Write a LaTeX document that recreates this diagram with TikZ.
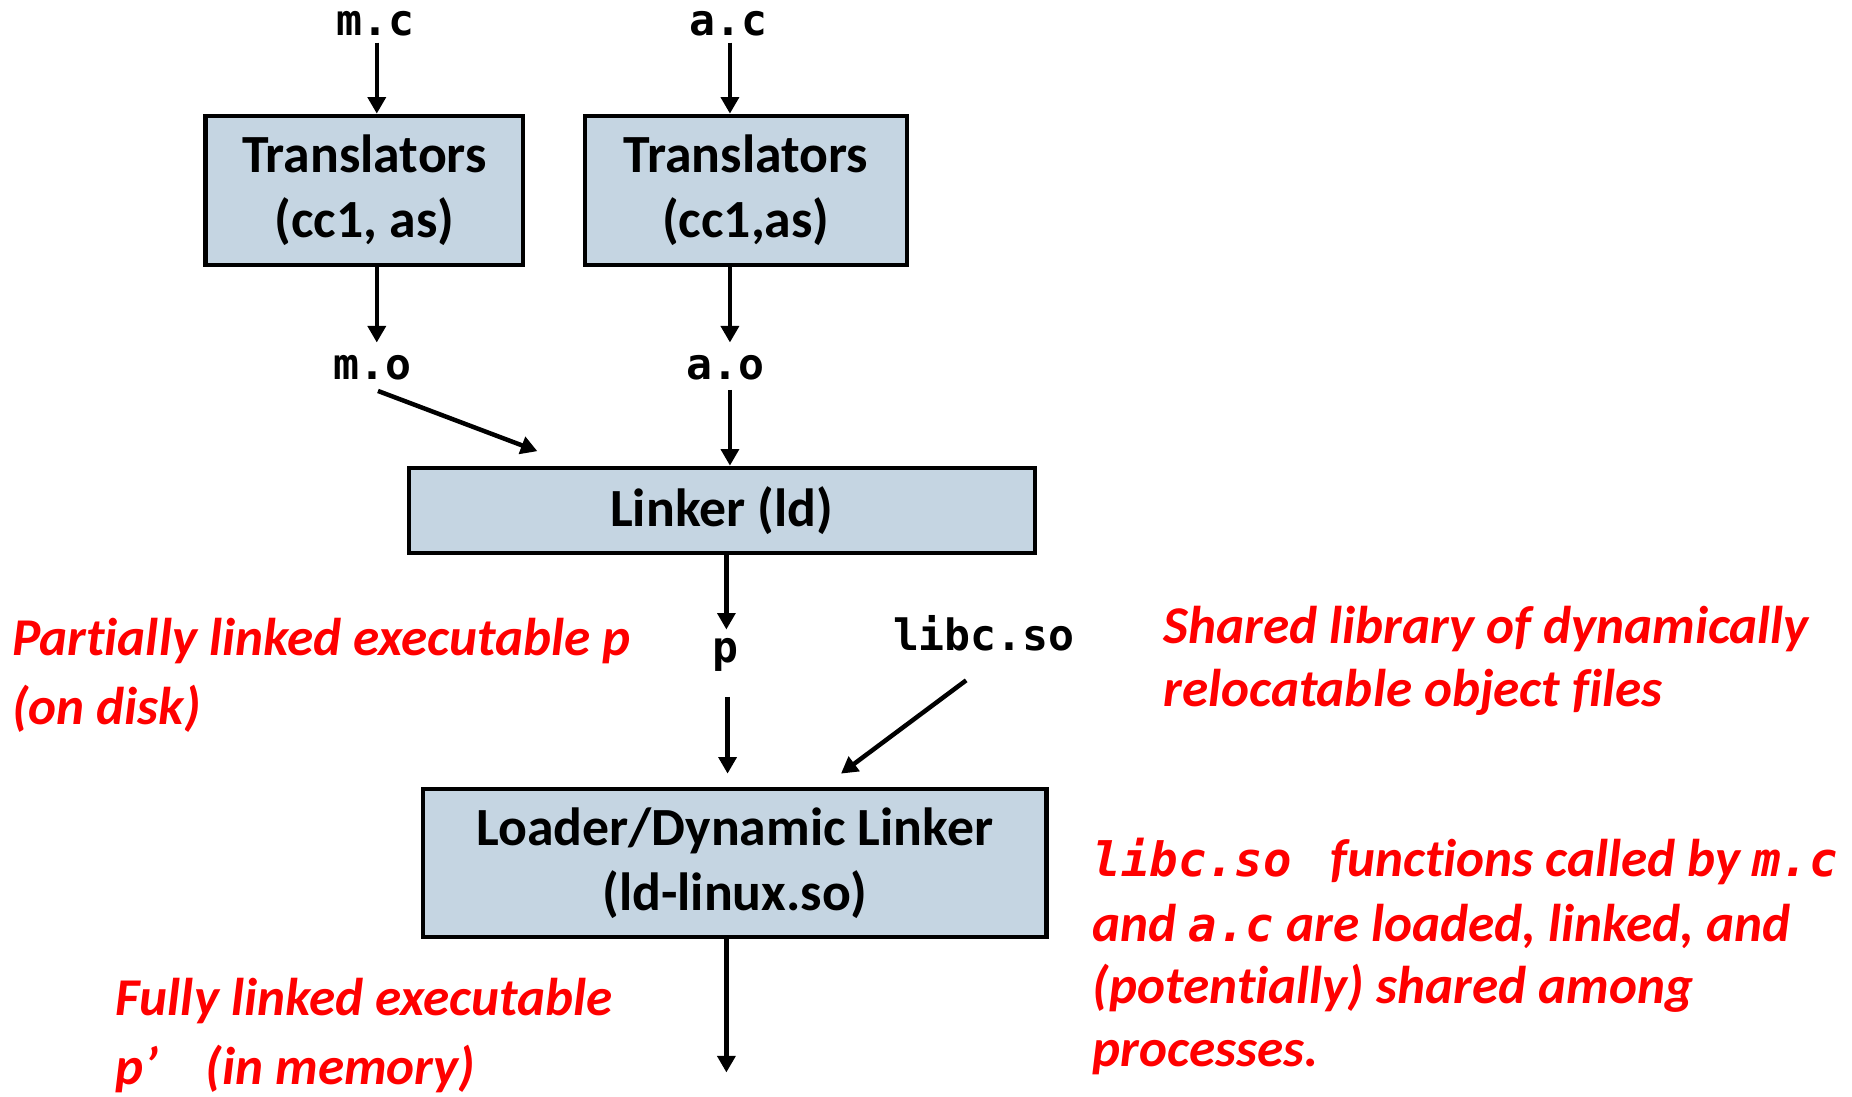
\documentclass[tikz,border=0pt]{standalone}
\usepackage{fontspec}
\setmainfont{Carlito}[Ligatures=NoCommon]
\setmonofont{DejaVu Sans Mono}
\usetikzlibrary{arrows.meta}

\definecolor{boxfill}{RGB}{197,213,226}
\definecolor{note}{RGB}{255,0,0}

\tikzset{
  stagebox/.style={draw=black, line width=3.5pt, fill=boxfill, align=center,
    inner sep=0pt, font=\fontsize{45.5}{55}\selectfont\bfseries},
  filelbl/.style={inner sep=0pt, font=\fontsize{36.5}{40}\selectfont\ttfamily\bfseries},
  notetxt/.style={inner sep=0pt, anchor=base west, text=note,
    font=\fontsize{45}{54}\selectfont\bfseries\itshape},
  flow/.style={line width=3.8pt, -{Triangle[length=14pt,width=15pt]}},
}
\newcommand{\mono}[1]{{\fontsize{40}{54}\selectfont\ttfamily\bfseries\itshape #1}}

\begin{document}
\begin{tikzpicture}[x=1pt,y=-1pt]
\useasboundingbox (0,0) rectangle (1568,928);

% source files
\node[filelbl, anchor=base] (mc) at (318,30) {m.c};
\node[filelbl, anchor=base] (ac) at (617,30) {a.c};

% translator stages
\node[stagebox, minimum width=269pt, minimum height=126pt] (t1) at (308.5,161)
  {Translators\\(cc1, as)};
\node[stagebox, minimum width=273pt, minimum height=126pt] (t2) at (631.5,161)
  {Translators\\(cc1,as)};

% object files
\node[filelbl, anchor=base] (mo) at (315,321) {m.o};
\node[filelbl, anchor=base] (ao) at (614,321) {a.o};

% static linker
\node[stagebox, minimum width=530pt, minimum height=72pt] (lk) at (611,432)
  {Linker (ld)};

% partially linked executable and shared library
\node[filelbl, anchor=base] (p) at (614,561) {p};
\node[filelbl, anchor=base] (libc) at (833,551) {libc.so};

% loader
\node[stagebox, minimum width=528pt, minimum height=125pt] (ld) at (622,730.5)
  {Loader/Dynamic Linker\\(ld-linux.so)};

% free arrow ends
\coordinate (lkin) at (455,382);
\coordinate (ldin) at (712,655);
\coordinate (out) at (615,908);

% connectors (canvas shifts: positive is up)
\draw[flow] ([xshift=1pt,yshift=-6pt]mc.base) -- ([xshift=1pt]mc.base |- t1.north);
\draw[flow] ([xshift=1pt]ac.base |- t2.south) -- ([xshift=1pt,yshift=31pt]ac.base |- mo.base);
\draw[flow] ([xshift=1pt]mc.base |- t1.south) -- ([xshift=1pt,yshift=31pt]mc.base |- mo.base);
\draw[flow] ([xshift=1pt,yshift=-6pt]ac.base) -- ([xshift=1pt]ac.base |- t2.north);
\draw[flow] ([xshift=5pt,yshift=-10pt]mo.base) -- (lkin);
\draw[flow] ([xshift=4pt,yshift=-9pt]ao.base) -- ([xshift=4pt]ao.base |- lk.north);
\draw[flow] ([xshift=1pt]p.base |- lk.south) -- ([xshift=1pt,yshift=28pt]p.base);
\draw[flow] ([xshift=2pt,yshift=-29pt]p.base) -- ([xshift=2pt]p.base |- ldin);
\draw[flow] ([xshift=-15pt,yshift=-25pt]libc.base) -- (ldin);
\draw[flow] (ld.south -| out) -- (out);

% annotations
\node[notetxt] (pa1) at (10,555) {Partially linked executable p};
\node[notetxt] (pa2) at (10,613) {(on disk)};
\node[notetxt] (sh1) at (985,545) {Shared library of dynamically};
\node[notetxt] (sh2) at (985,598) {relocatable object files};
\node[notetxt] (fn1) at (925,742) {\mono{libc.so}\hspace{0.5em} functions called by \mono{m.c}};
\node[notetxt] (fn2) at (925,797) {and \mono{a.c} are loaded, linked, and};
\node[notetxt] (fn3) at (925,850) {(potentially) shared among};
\node[notetxt] (fn4) at (925,903) {processes.};
\node[notetxt] (fl1) at (98,860) {Fully linked executable};
\node[notetxt] (fl2) at (98,918) {p’\hspace{0.9em}(in memory)};
\end{tikzpicture}
\end{document}
